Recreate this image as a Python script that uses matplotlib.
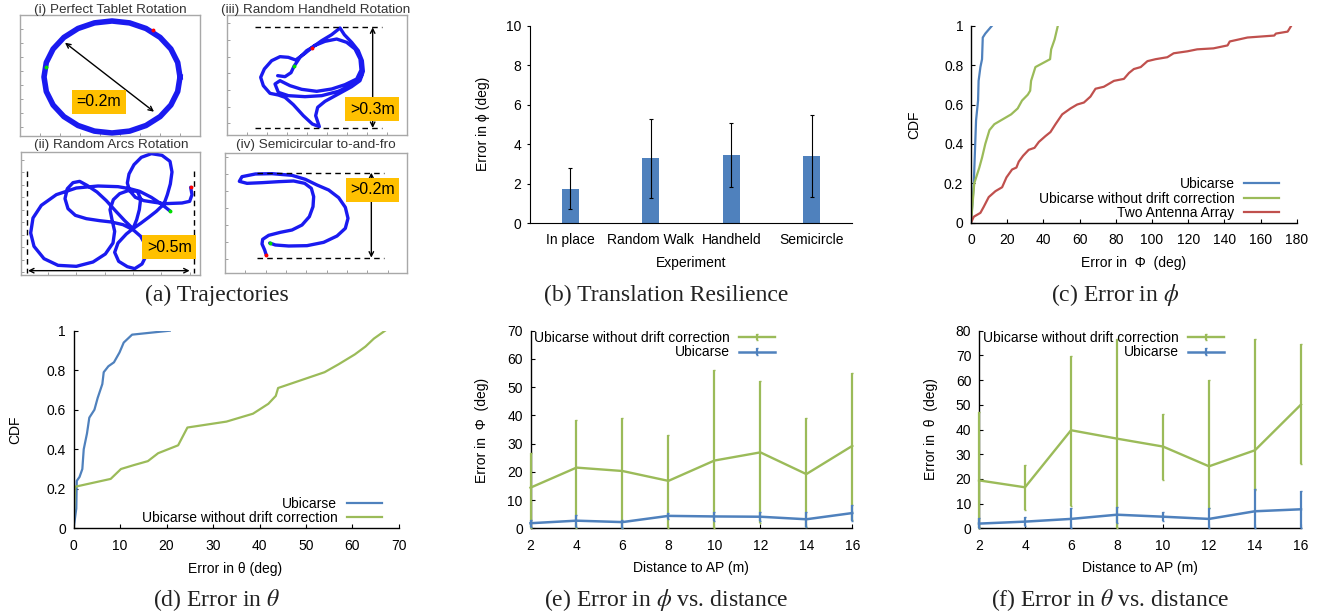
import numpy as np
import matplotlib
matplotlib.use('Agg')
import matplotlib.pyplot as plt
from matplotlib.legend_handler import HandlerErrorbar
from matplotlib.container import ErrorbarContainer

plt.rcParams['font.family'] = ['Liberation Sans', 'DejaVu Sans']
plt.rcParams['mathtext.fontset'] = 'stix'

# ---------------- data ----------------
# (a) trajectories (arbitrary planar units)
traj_i_x = [160, 157.7, 150.9, 140.1, 126, 109.6, 92, 74.4, 58, 43.9, 33.1, 26.3, 24, 26.3, 33.1, 43.9, 58, 74.4, 92, 109.6, 126, 140.1, 150.9, 157.7, 160]
traj_i_y = [59, 73.5, 87, 98.6, 107.5, 113.1, 115, 113.1, 107.5, 98.6, 87, 73.5, 59, 44.5, 31, 19.4, 10.5, 4.9, 3, 4.9, 10.5, 19.4, 31, 44.5, 59]

traj_iii = [(158,185),(180,188),(198,176),(207,157),(225,130),(245,110),(262,100),(290,80),(320,62),(345,42),(358,62),(380,85),(400,110),(412,140),(415,172),(405,200),(380,218),(340,240),(300,262),(278,280),(272,305),(283,338),(262,330),(235,305),(205,272),(180,250),(160,243),(135,238),(115,215),(107,190),(118,165),(140,140),(165,128),(190,130),(212,138),(240,118),(268,95),(300,82),(335,75),(365,85),(390,105),(405,135),(408,168),(395,195),(360,212),(320,225),(275,232),(230,226),(195,215),(165,200),(150,210),(160,235),(190,245),(240,248),(290,245),(340,232),(385,210),(410,185)]

traj_ii = [(455,188),(430,168),(400,148),(365,130),(335,122),(300,116),(240,114),(175,120),(115,140),(70,172),(45,210),(38,255),(48,295),(78,332),(120,352),(175,355),(225,342),(262,318),(285,285),(290,250),(282,215),(276,185),(286,155),(305,137),(330,128),(358,130),(368,152),(364,185),(356,215),(345,242),
           (325,258),(300,285),(290,313),(302,340),(328,356),(350,362),(372,348),(385,322),(383,292),(368,265),(345,245),
           (315,230),(280,222),(245,218),(205,212),(172,202),(150,182),(141,152),(148,122),(165,104),(185,100),(207,112),(237,132),(265,158),(292,188),(320,218),(345,242),
           (368,226),(392,208),(415,190),(438,168),(448,140),(457,108),(462,72),(456,40),(432,22),(400,17),(370,28),(348,50),(333,78),(328,105),(335,128),(352,148),(378,158),(410,163),(440,167),(465,166),(492,165),(515,160),(522,140),(518,118)]

traj_iv = [(133,316),(128,300),(120,282),(122,268),(140,256),(175,247),(210,240),(240,225),(262,200),(273,170),(275,140),(268,115),(248,100),(215,93),(170,95),(120,98),(75,100),(52,94),(60,80),(100,72),(150,71),(210,76),(250,88),(285,105),(320,120),(350,143),(370,172),(378,205),(370,235),(345,258),(305,277),(255,287),(200,288),(160,285),(143,279)]

# (b) translation resilience
exp_names = ['In place', 'Random Walk', 'Handheld', 'Semicircle']
exp_mean = [1.75, 3.3, 3.45, 3.4]
exp_std = [1.03, 2.0, 1.62, 2.08]

# (c) CDF of error in phi
c_ubi_x = [0, 1.5, 2.8, 3.9, 4.2, 5.2, 6.1, 6.5, 7.9, 11.6]
c_ubi_y = [0, 0.19, 0.52, 0.62, 0.72, 0.79, 0.83, 0.94, 0.96, 1.0]
c_nodrift_x = [0, 1.8, 4.6, 6.1, 7.9, 10.2, 12.9, 22.2, 25.8, 28.2, 31.4, 32.7, 33.2, 35.6, 43.7, 44.3, 46.2, 48]
c_nodrift_y = [0, 0.2, 0.28, 0.33, 0.40, 0.47, 0.5, 0.55, 0.58, 0.62, 0.65, 0.67, 0.72, 0.79, 0.83, 0.88, 0.93, 1.0]
c_two_x = [0, 1.5, 5.2, 7, 9.8, 13.5, 17.2, 19.6, 22.7, 25.1, 26.4, 28.8, 31.9, 35.1, 37.5, 41.2, 43.9, 46.7, 50.4, 55, 58.7, 62.4, 66, 68.8, 73.4, 79, 84.5, 87.3, 90, 93.8, 97.5, 102, 108.5, 112, 119.6, 125, 134, 141.8, 143, 152.8, 167.6, 168.5, 175, 177]
c_two_y = [0, 0.03, 0.05, 0.08, 0.13, 0.16, 0.18, 0.23, 0.27, 0.28, 0.31, 0.34, 0.37, 0.38, 0.41, 0.44, 0.46, 0.50, 0.55, 0.58, 0.60, 0.61, 0.64, 0.68, 0.69, 0.72, 0.73, 0.76, 0.78, 0.79, 0.82, 0.83, 0.84, 0.86, 0.87, 0.88, 0.885, 0.90, 0.92, 0.94, 0.95, 0.96, 0.97, 1.0]

# (d) CDF of error in theta
d_ubi_x = [0, 0.2, 0.6, 0.7, 1.3, 1.9, 2.2, 2.9, 3.4, 4.5, 5.2, 6.2, 6.5, 7.5, 8.7, 9.9, 10.8, 12.6, 20.7]
d_ubi_y = [0, 0.03, 0.10, 0.24, 0.26, 0.30, 0.40, 0.48, 0.56, 0.60, 0.66, 0.73, 0.79, 0.82, 0.84, 0.89, 0.94, 0.98, 1.0]
d_nodrift_x = [0, 0.3, 8, 10.2, 13, 16, 18.2, 22.5, 24.5, 32.9, 38.6, 41.9, 43.5, 44, 54, 57, 60.5, 62.8, 64.6, 67]
d_nodrift_y = [0, 0.21, 0.25, 0.30, 0.32, 0.34, 0.38, 0.42, 0.51, 0.54, 0.58, 0.63, 0.67, 0.71, 0.79, 0.83, 0.88, 0.92, 0.96, 1.0]

# (e), (f) error vs distance
distance = [2, 4, 6, 8, 10, 12, 14, 16]
e_nodrift_mean = [14.4, 21.5, 20.3, 16.8, 24.0, 26.9, 19.2, 29.2]
e_nodrift_low = [0, 0, 0, 0, 0, 2.0, 0.6, 3.0]
e_nodrift_high = [26.8, 38.4, 38.9, 33.1, 56.1, 52.2, 38.9, 54.9]
e_ubi_mean = [1.8, 2.7, 2.2, 4.4, 4.2, 4.1, 3.2, 5.4]
e_ubi_low = [0.6, 0.35, 0, 3.2, 2.7, 2.7, 0.6, 2.7]
e_ubi_high = [3.0, 4.7, 3.0, 5.5, 5.9, 5.7, 5.9, 8.3]

f_nodrift_mean = [19.4, 16.6, 39.7, 36.3, 33.1, 25.1, 31.6, 50.1]
f_nodrift_low = [0, 7.4, 9.0, 0, 19.6, 8.4, 15.5, 26.0]
f_nodrift_high = [47.2, 25.6, 69.9, 76.6, 46.2, 60.1, 76.5, 74.5]
f_ubi_mean = [1.9, 2.7, 3.8, 5.5, 4.7, 3.8, 6.9, 7.7]
f_ubi_low = [0, 0.9, 0, 2.3, 3.1, 0, 0, 0]
f_ubi_high = [4.0, 4.5, 8.4, 8.8, 6.6, 8.4, 15.9, 15.2]

# ---------------- style ----------------
BLUE = '#4f81bd'
GREEN = '#9bbb59'
RED = '#c0504d'
TRAJ = '#1a1af0'
YELLOW = '#ffc000'
FS = 10
CAPFS = 17
TITFS = 9.7

W, H = 1320, 614
fig = plt.figure(figsize=(W / 100, H / 100), dpi=100)


def ax_at(x0, y0, x1, y1):
    return fig.add_axes([x0 / W, 1 - y1 / H, (x1 - x0) / W, (y1 - y0) / H])


def ftext(x, y, s, **kw):
    kw.setdefault('ha', 'center')
    kw.setdefault('va', 'center')
    fig.text(x / W, 1 - y / H, s, **kw)


def caption(x, y, s):
    ftext(x, y, s, fontsize=CAPFS, family='Liberation Serif', color='#222222')


# ---------------- (a) trajectories ----------------
def traj_box(x0, y0, x1, y1, xlim, ylim, xticks, yticks):
    ax = ax_at(x0, y0, x1, y1)
    ax.set_xlim(*xlim)
    ax.set_ylim(*ylim)
    for s in ax.spines.values():
        s.set_color('#a8a8a8')
        s.set_linewidth(1.0)
    ax.set_xticks(xticks)
    ax.set_yticks(yticks)
    ax.tick_params(direction='in', length=2.5, width=0.6, color='#909090',
                   labelbottom=False, labelleft=False)
    return ax


def yellow_label(ax, x, y, s):
    ax.text(x, y, s, fontsize=11.5, ha='center', va='center', color='black',
            bbox=dict(boxstyle='square,pad=0.28', fc=YELLOW, ec='none'), zorder=6)


def dbl_arrow(ax, p0, p1):
    ax.annotate('', xy=p1, xytext=p0,
                arrowprops=dict(arrowstyle='<->', lw=1.0, color='black',
                                shrinkA=0, shrinkB=0, mutation_scale=8), zorder=5)


# (i)
ax1 = traj_box(20, 15, 200, 136, (0, 180), (0, 121),
               np.arange(20, 180, 20), np.arange(9, 121, 14))
ax1.plot(traj_i_x, traj_i_y, color=TRAJ, lw=4.0, solid_joinstyle='round')
ax1.plot([132.7], [106], 'o', color='red', ms=1.8)
ax1.plot([25.7], [69.3], 'o', color='#00dd00', ms=1.8)
dbl_arrow(ax1, (45, 93.3), (134, 24.3))
yellow_label(ax1, 79, 34.3, '=0.2m')
ftext(110.5, 10, '(i) Perfect Tablet Rotation', fontsize=TITFS, color='#333333')

# (iii)
ax3 = traj_box(227, 15, 407, 135, (6, 546), (363, 3),
               np.arange(65, 546, 60), np.arange(28, 363, 50))
xs, ys = zip(*traj_iii)
ax3.plot(xs, ys, color=TRAJ, lw=2.4, solid_joinstyle='round', solid_capstyle='round')
ax3.plot([260], [103], 'o', color='red', ms=1.8)
ax3.plot([207], [157], 'o', color='#00dd00', ms=1.8)
ax3.plot([90, 470], [40, 40], ls=(0, (4, 3)), color='black', lw=1)
ax3.plot([90, 470], [342, 342], ls=(0, (4, 3)), color='black', lw=1)
dbl_arrow(ax3, (443, 40), (443, 342))
yellow_label(ax3, 442, 286, '>0.3m')
ftext(316, 10, '(iii) Random Handheld Rotation', fontsize=TITFS, color='#333333')

# (ii)
ax2 = traj_box(21, 152, 200, 275, (9, 546), (381, 12),
               np.arange(90, 546, 85), np.arange(35, 381, 37.5))
xs, ys = zip(*traj_ii)
ax2.plot(xs, ys, color=TRAJ, lw=2.4, solid_joinstyle='round', solid_capstyle='round')
ax2.plot([518], [118], 'o', color='red', ms=1.8)
ax2.plot([455], [188], 'o', color='#00dd00', ms=1.8)
ax2.plot([28, 28], [68, 375], ls=(0, (4, 3)), color='black', lw=1)
ax2.plot([527, 527], [68, 375], ls=(0, (4, 3)), color='black', lw=1)
dbl_arrow(ax2, (30, 368), (515, 368))
yellow_label(ax2, 454, 297, '>0.5m')
ftext(111, 145, '(ii) Random Arcs Rotation', fontsize=TITFS, color='#333333')

# (iv)
ax4 = traj_box(225, 153, 407, 273, (9, 555), (369, 9),
               np.arange(70, 555, 61), np.arange(22, 369, 51))
xs, ys = zip(*traj_iv)
ax4.plot(xs, ys, color=TRAJ, lw=2.4, solid_joinstyle='round', solid_capstyle='round')
ax4.plot([133], [316], 'o', color='red', ms=1.8)
ax4.plot([143], [279], 'o', color='#00dd00', ms=1.8)
ax4.plot([105, 485], [68, 68], ls=(0, (4, 3)), color='black', lw=1)
ax4.plot([105, 485], [323, 323], ls=(0, (4, 3)), color='black', lw=1)
dbl_arrow(ax4, (448, 68), (448, 323))
yellow_label(ax4, 451, 119, '>0.2m')
ftext(316, 145, '(iv) Semicircular to-and-fro', fontsize=TITFS, color='#333333')

caption(216.7, 295, '(a) Trajectories')


# ---------------- helpers for gnuplot-like axes ----------------
def gp_axes(ax, xlim, ylim, xticks, yticks, xtl=None, ytl=None, xpad=7.5, ypad=5.5):
    ax.set_xlim(*xlim)
    ax.set_ylim(*ylim)
    ax.set_xticks(xticks)
    ax.set_yticks(yticks)
    if xtl is not None:
        ax.set_xticklabels(xtl)
    if ytl is not None:
        ax.set_yticklabels(ytl)
    for s in ('top', 'right'):
        ax.spines[s].set_visible(False)
    for s in ('left', 'bottom'):
        ax.spines[s].set_linewidth(1.0)
        ax.spines[s].set_color('black')
    ax.tick_params(direction='in', length=3, width=0.8, labelsize=FS)
    ax.tick_params(axis='x', pad=xpad)
    ax.tick_params(axis='y', pad=ypad)
    ax.patch.set_alpha(0)


def gp_legend(ax, loc, anchor, hl, htp):
    ax.legend(loc=loc, bbox_to_anchor=anchor, frameon=False, markerfirst=False,
              handlelength=hl, handletextpad=htp, labelspacing=0.05,
              borderpad=0, borderaxespad=0, fontsize=FS,
              handler_map={ErrorbarContainer: HandlerErrorbar(xerr_size=0.3, yerr_size=0.22)})


# ---------------- (b) ----------------
axb = ax_at(530, 25.7, 852, 223.3)
xpos = np.arange(len(exp_names))
axb.bar(xpos, exp_mean, width=0.21, color=BLUE, zorder=2)
axb.errorbar(xpos, exp_mean, yerr=exp_std, fmt='none', ecolor='black',
             elinewidth=0.8, capsize=1.5, capthick=0.8, zorder=3)
axb.set_xlim(-0.5, 3.5)
axb.set_ylim(0, 10)
axb.set_yticks([0, 2, 4, 6, 8, 10])
axb.set_xticks(xpos)
axb.set_xticklabels(exp_names)
for s in ('top', 'right'):
    axb.spines[s].set_visible(False)
axb.tick_params(axis='x', length=0, pad=7, labelsize=FS)
axb.tick_params(axis='y', direction='out', length=2.5, width=0.8, pad=4, labelsize=FS)
ftext(482.7, 124, 'Error in ϕ (deg)', fontsize=FS, rotation=90)
ftext(691, 263.3, 'Experiment', fontsize=FS)
caption(665.8, 295, '(b) Translation Resilience')

# ---------------- (c) ----------------
axc = ax_at(971, 25.7, 1296.7, 222.7)
axc.plot(c_ubi_x, c_ubi_y, color=BLUE, lw=1.6, label='Ubicarse')
axc.plot(c_nodrift_x, c_nodrift_y, color=GREEN, lw=1.6, label='Ubicarse without drift correction')
axc.plot(c_two_x, c_two_y, color=RED, lw=1.6, label='Two Antenna Array')
gp_axes(axc, (0, 180), (0, 1), np.arange(0, 181, 20), np.arange(0, 1.01, 0.2),
        ytl=['0', '0.2', '0.4', '0.6', '0.8', '1'])
gp_legend(axc, 'lower right', ((1279 - 971) / 325.7, 0.012), 2.5, 0.7)
ftext(913.8, 125, 'CDF', fontsize=FS, rotation=90)
ftext(1133.3, 263.3, 'Error in  Φ  (deg)', fontsize=FS)
caption(1115, 295, r'(c) Error in $\phi$')

# ---------------- (d) ----------------
axd = ax_at(73.5, 330.7, 399, 528.3)
axd.plot(d_ubi_x, d_ubi_y, color=BLUE, lw=1.6, label='Ubicarse')
axd.plot(d_nodrift_x, d_nodrift_y, color=GREEN, lw=1.6, label='Ubicarse without drift correction')
gp_axes(axd, (0, 70), (0, 1), np.arange(0, 71, 10), np.arange(0, 1.01, 0.2),
        ytl=['0', '0.2', '0.4', '0.6', '0.8', '1'])
gp_legend(axd, 'lower right', ((381.7 - 73.5) / 325.5, 0.015), 2.5, 0.7)
ftext(15.3, 430, 'CDF', fontsize=FS, rotation=90)
ftext(235.5, 569, 'Error in θ (deg)', fontsize=FS)
caption(216.7, 600, r'(d) Error in $\theta$')


# ---------------- (e) ----------------
def err_panel(ax, nd_mean, nd_low, nd_high, ub_mean, ub_low, ub_high):
    nd_m = np.array(nd_mean)
    ub_m = np.array(ub_mean)
    ax.errorbar(distance, nd_m, yerr=[nd_m - np.array(nd_low), np.array(nd_high) - nd_m],
                color=GREEN, lw=1.7, elinewidth=1.6, capsize=0.8, capthick=1.0,
                label='Ubicarse without drift correction', zorder=3, clip_on=False)
    ax.errorbar(distance, ub_m, yerr=[ub_m - np.array(ub_low), np.array(ub_high) - ub_m],
                color=BLUE, lw=1.8, elinewidth=1.6, capsize=0.8, capthick=1.0,
                label='Ubicarse', zorder=4, clip_on=False)


axe = ax_at(530.5, 330.7, 852.3, 528.3)
err_panel(axe, e_nodrift_mean, e_nodrift_low, e_nodrift_high, e_ubi_mean, e_ubi_low, e_ubi_high)
gp_axes(axe, (2, 16), (0, 70), distance, np.arange(0, 71, 10))
gp_legend(axe, 'upper right', ((775 - 530.5) / 321.8, 1.0), 2.6, 0.65)
ftext(482.2, 430, 'Error in  Φ  (deg)', fontsize=FS, rotation=90)
ftext(690.5, 568.3, 'Distance to AP (m)', fontsize=FS)
caption(666.2, 600, r'(e) Error in $\phi$ vs. distance')

# ---------------- (f) ----------------
axf = ax_at(979, 330.7, 1301, 528.3)
err_panel(axf, f_nodrift_mean, f_nodrift_low, f_nodrift_high, f_ubi_mean, f_ubi_low, f_ubi_high)
gp_axes(axf, (2, 16), (0, 80), distance, np.arange(0, 81, 10))
gp_legend(axf, 'upper right', ((1224.3 - 979) / 322, 1.0), 2.6, 0.65)
ftext(931.2, 429, 'Error in  θ  (deg)', fontsize=FS, rotation=90)
ftext(1139.5, 568.3, 'Distance to AP (m)', fontsize=FS)
caption(1110.5, 600, r'(f) Error in $\theta$ vs. distance')

fig.savefig('out.png', dpi=100)
